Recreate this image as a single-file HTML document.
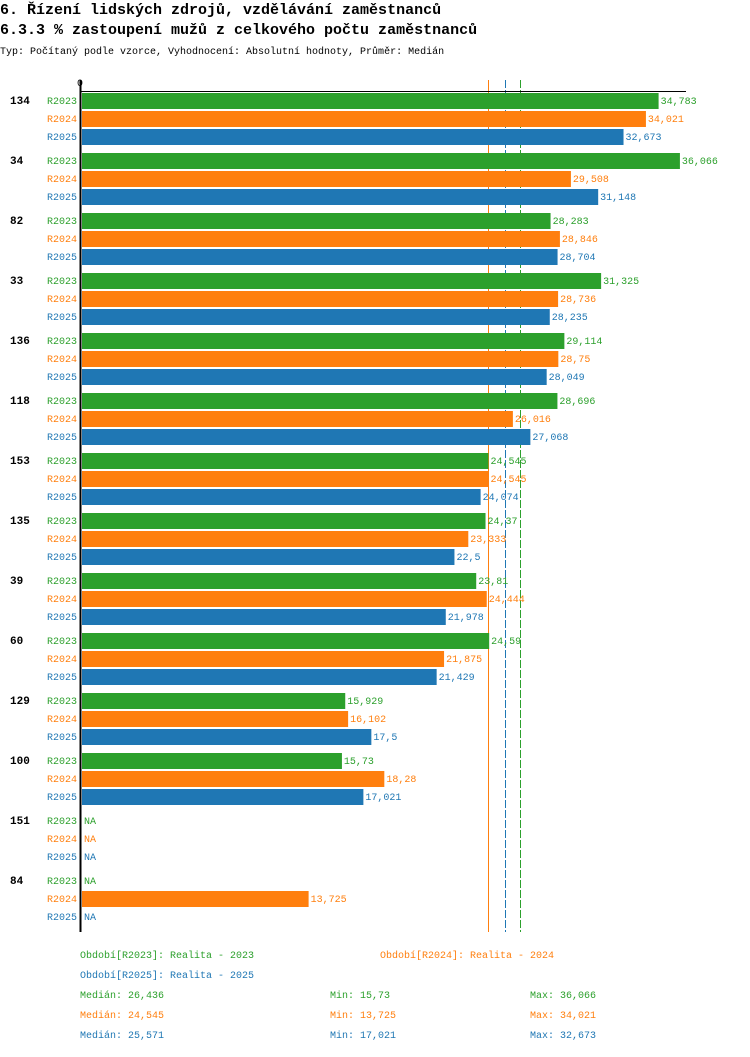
<!DOCTYPE html>
<html><head><meta charset="utf-8"><style>
body{margin:0;background:#fff;width:750px;height:1052px;overflow:hidden;font-family:"Liberation Mono",monospace}
svg text{font-family:"Liberation Mono","DejaVu Sans Mono",monospace}
</style></head><body>
<svg id="c" width="750" height="1052">
<text x="0" y="14" font-size="15" font-weight="bold">6. Řízení lidských zdrojů, vzdělávání zaměstnanců</text>
<text x="0" y="34" font-size="15" font-weight="bold">6.3.3 % zastoupení mužů z celkového počtu zaměstnanců</text>
<text x="0" y="54" font-size="10">Typ: Počítaný podle vzorce, Vyhodnocení: Absolutní hodnoty, Průměr: Medián</text>
<text x="77" y="86" font-size="10">0</text>
</svg>
<script>
const groups=["134","34","82","33","136","118","153","135","39","60","129","100","151","84"];
const seriesNames=["R2023","R2024","R2025"];
const r2023=[34.783,36.066,28.283,31.325,29.114,28.696,24.545,24.37,23.81,24.59,15.929,15.73,null,null];
const r2024=[34.021,29.508,28.846,28.736,28.75,26.016,24.545,23.333,24.444,21.875,16.102,18.28,null,13.725];
const r2025=[32.673,31.148,28.704,28.235,28.049,27.068,24.074,22.5,21.978,21.429,17.5,17.021,null,null];
const medians=[26.436,24.545,25.571];
const mins=[15.73,13.725,17.021];
const maxs=[36.066,34.021,32.673];
const colors=["#2ca02c","#ff7f0e","#1f77b4"];
const svg=document.getElementById('c');
const NS="http://www.w3.org/2000/svg";
const x0=80.5,k=16.62;
function xs(v){return x0+v*k;}
function fmt(v){return String(v).replace('.',',');}
function mk(tag,attrs){const e=document.createElementNS(NS,tag);for(const a in attrs)e.setAttribute(a,attrs[a]);svg.appendChild(e);return e;}
[1,2,0].forEach(j=>{
  const xx=Math.round(xs(medians[j]))+0.5;
  const ln=mk('line',{x1:xx,x2:xx,y1:80,y2:932,stroke:colors[j],'stroke-width':1});
  if(j!==1)ln.setAttribute('stroke-dasharray','8,2');
  
  
});
const all=[r2023,r2024,r2025];
groups.forEach((g,i)=>{
  const gy=92+i*60;
  const t=mk('text',{x:10,y:gy+12,'font-size':11,'font-weight':'bold'});t.textContent=g;
  
  
  all.forEach((s,j)=>{
    const y=gy+1+j*18;
    const l=mk('text',{x:77,y:y+11,'font-size':10,'text-anchor':'end',fill:colors[j]});l.textContent=seriesNames[j];
    
    
    const v=s[i];
    let ex=82;
    if(v!==null){
      const b=mk('rect',{x:82,y:y,width:xs(v)-82,height:16,fill:colors[j]});
      
      
      ex=xs(v);
    }
    const vt=mk('text',{x:ex+2,y:y+11,'font-size':10,fill:colors[j]});vt.textContent=v===null?'NA':fmt(v);
    
    
  });
});
const ax=mk('line',{x1:80.5,x2:80.5,y1:80,y2:932,stroke:'#000','stroke-width':2});


const ax2=mk('line',{x1:80,x2:686,y1:91.5,y2:91.5,stroke:'#000','stroke-width':1});


const leg=[[80,958,'Období[R2023]: Realita - 2023',0],[380,958,'Období[R2024]: Realita - 2024',1],[80,978,'Období[R2025]: Realita - 2025',2]];
leg.forEach(([x,y,s,j])=>{const t=mk('text',{x:x,y:y,'font-size':10,fill:colors[j]});t.textContent=s;

});
[0,1,2].forEach(j=>{
  const y=998+j*20;
  [[80,'Medián: '+fmt(medians[j])],[330,'Min: '+fmt(mins[j])],[530,'Max: '+fmt(maxs[j])]].forEach(([x,s])=>{
    const t=mk('text',{x:x,y:y,'font-size':10,fill:colors[j]});t.textContent=s;
    
    
  });
});
</script>
</body></html>
